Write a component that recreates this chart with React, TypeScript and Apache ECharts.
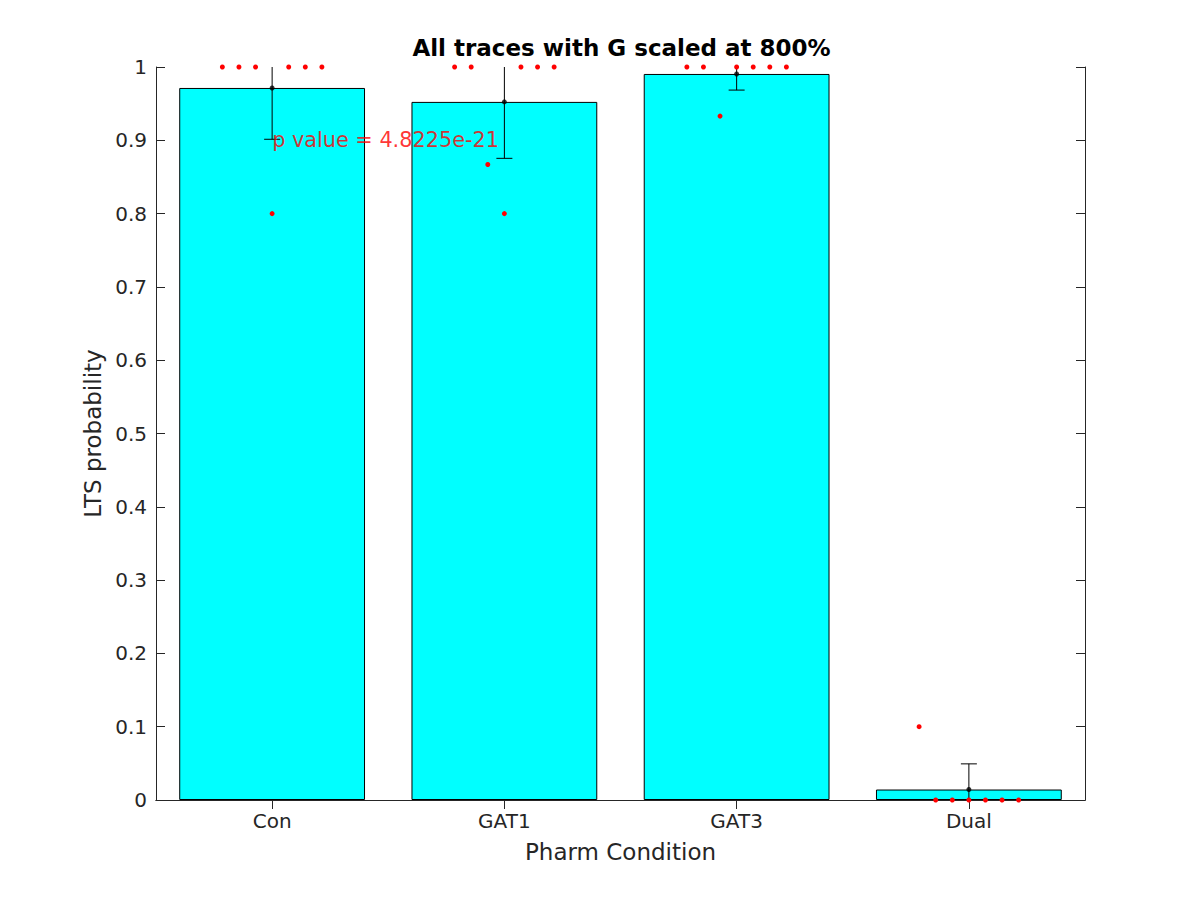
import React, { useEffect, useRef } from "react";
import * as echarts from "echarts";

const categories = ["Con", "GAT1", "GAT3", "Dual"];
const yTicks = [0, 0.1, 0.2, 0.3, 0.4, 0.5, 0.6, 0.7, 0.8, 0.9, 1];
const means = [0.9714, 0.9524, 0.9905, 0.0143];
const errs = [0.07, 0.077, 0.022, 0.035];
const jitterSteps = [-3, -2, -1, 0, 1, 2, 3];
const conPoints = [1, 1, 1, 0.8, 1, 1, 1];
const gat1Points = [1, 1, 0.867, 0.8, 1, 1, 1];
const gat3Points = [1, 1, 0.933, 1, 1, 1, 1];
const dualPoints = [0.1, 0, 0, 0, 0, 0, 0];
const pValueText = "p value = 4.8225e-21";
const pValuePos = [1, 0.9];

const FONT = "DejaVu Sans";
const AXIS_COLOR = "#262626";

export default function App() {
  const ref = useRef<HTMLDivElement>(null);
  useEffect(() => {
    if (!ref.current) return;
    const chart = echarts.init(ref.current, null, { renderer: "svg" });
    const groups = [conPoints, gat1Points, gat3Points, dualPoints];
    const dots: number[][] = [];
    groups.forEach((g, gi) => {
      g.forEach((v, j) => {
        dots.push([gi + 1 + jitterSteps[j] / 14, v]);
      });
    });
    const errData = means.map((m, i) => [i + 1, m, m - errs[i], m + errs[i]]);
    const meanPts = means.map((m, i) => [i + 1, m]);

    const option: any = {
      animation: false,
      backgroundColor: "#ffffff",
      title: {
        text: "All traces with G scaled at 800%",
        left: 616.5,
        textAlign: "center",
        top: 31,
        textStyle: { fontFamily: FONT, fontSize: 23, fontWeight: "bold", color: "#000" },
      },
      grid: { left: 156, top: 67, width: 929, height: 733, containLabel: false },
      xAxis: [
        {
          type: "category",
          data: categories,
          position: "bottom",
          boundaryGap: true,
          axisLine: { show: true, lineStyle: { color: AXIS_COLOR, width: 1 } },
          axisTick: { show: true, inside: true, alignWithLabel: true, length: 9, lineStyle: { color: AXIS_COLOR } },
          axisLabel: { fontFamily: FONT, fontSize: 20, color: AXIS_COLOR, margin: 11 },
          splitLine: { show: false },
          name: "Pharm Condition",
          nameLocation: "middle",
          nameGap: 40,
          nameTextStyle: { fontFamily: FONT, fontSize: 23, color: AXIS_COLOR },
        },
        {
          type: "category",
          data: categories,
          position: "top",
          boundaryGap: true,
          axisLine: { show: true, lineStyle: { color: AXIS_COLOR, width: 1 } },
          axisTick: { show: true, inside: true, alignWithLabel: true, length: 9, lineStyle: { color: AXIS_COLOR } },
          axisLabel: { show: false },
          splitLine: { show: false },
        },
        {
          type: "value",
          min: 0.5,
          max: 4.5,
          show: false,
          splitLine: { show: false },
        },
      ],
      yAxis: [
        {
          type: "value",
          min: 0,
          max: 1,
          interval: 0.1,
          position: "left",
          axisLine: { show: true, lineStyle: { color: AXIS_COLOR, width: 1 } },
          axisTick: { show: true, inside: true, length: 9, lineStyle: { color: AXIS_COLOR } },
          axisLabel: {
            fontFamily: FONT,
            fontSize: 20,
            color: AXIS_COLOR,
            margin: 9,
            formatter: (v: number) => {
              const t = yTicks.find((y) => Math.abs(y - v) < 1e-9);
              return String(t !== undefined ? t : v);
            },
          },
          splitLine: { show: false },
          name: "LTS probability",
          nameLocation: "middle",
          nameGap: 49,
          nameRotate: 90,
          nameTextStyle: { fontFamily: FONT, fontSize: 23, color: AXIS_COLOR },
        },
        {
          type: "value",
          min: 0,
          max: 1,
          interval: 0.1,
          position: "right",
          axisLine: { show: true, lineStyle: { color: AXIS_COLOR, width: 1 } },
          axisTick: { show: true, inside: true, length: 9, lineStyle: { color: AXIS_COLOR } },
          axisLabel: { show: false },
          splitLine: { show: false },
        },
      ],
      series: [
        {
          type: "bar",
          xAxisIndex: 0,
          yAxisIndex: 0,
          data: means,
          barWidth: "80%",
          itemStyle: { color: "#00ffff", borderColor: "#000000", borderWidth: 1 },
          z: 1,
        },
        {
          type: "custom",
          xAxisIndex: 2,
          yAxisIndex: 0,
          data: errData,
          z: 3,
          renderItem: (params: any, api: any) => {
            const x = api.value(0);
            const lo = api.value(2);
            const hi = api.value(3);
            const loC = Math.max(lo, 0);
            const hiC = Math.min(hi, 1);
            const pLo = api.coord([x, loC]);
            const pHi = api.coord([x, hiC]);
            const hw = 8;
            const style = { stroke: "#000", lineWidth: 1, fill: "none" };
            const children: any[] = [
              { type: "line", shape: { x1: pLo[0], y1: pLo[1], x2: pHi[0], y2: pHi[1] }, style },
            ];
            if (lo >= 0) children.push({ type: "line", shape: { x1: pLo[0] - hw, y1: pLo[1], x2: pLo[0] + hw, y2: pLo[1] }, style });
            if (hi <= 1) children.push({ type: "line", shape: { x1: pHi[0] - hw, y1: pHi[1], x2: pHi[0] + hw, y2: pHi[1] }, style });
            return { type: "group", children };
          },
        },
        {
          type: "scatter",
          xAxisIndex: 2,
          yAxisIndex: 0,
          data: meanPts,
          symbol: "circle",
          symbolSize: 5,
          itemStyle: { color: "#000" },
          clip: false,
          z: 4,
        },
        {
          type: "scatter",
          xAxisIndex: 2,
          yAxisIndex: 0,
          data: dots,
          symbol: "circle",
          symbolSize: 5,
          itemStyle: { color: "#ff0000", opacity: 1 },
          clip: false,
          z: 5,
        },
        {
          type: "scatter",
          xAxisIndex: 2,
          yAxisIndex: 0,
          data: [pValuePos],
          symbolSize: 0,
          clip: false,
          z: 6,
          label: {
            show: true,
            position: "right",
            distance: 0,
            formatter: () => pValueText,
            fontFamily: FONT,
            fontSize: 20.8,
            color: "#ff0000",
          },
        },
      ],
    };
    chart.setOption(option);
    return () => chart.dispose();
  }, []);
  return (
    <div
      ref={ref}
      style={{ position: "fixed", left: 0, top: 0, width: 1200, height: 900, background: "#fff" }}
    />
  );
}
